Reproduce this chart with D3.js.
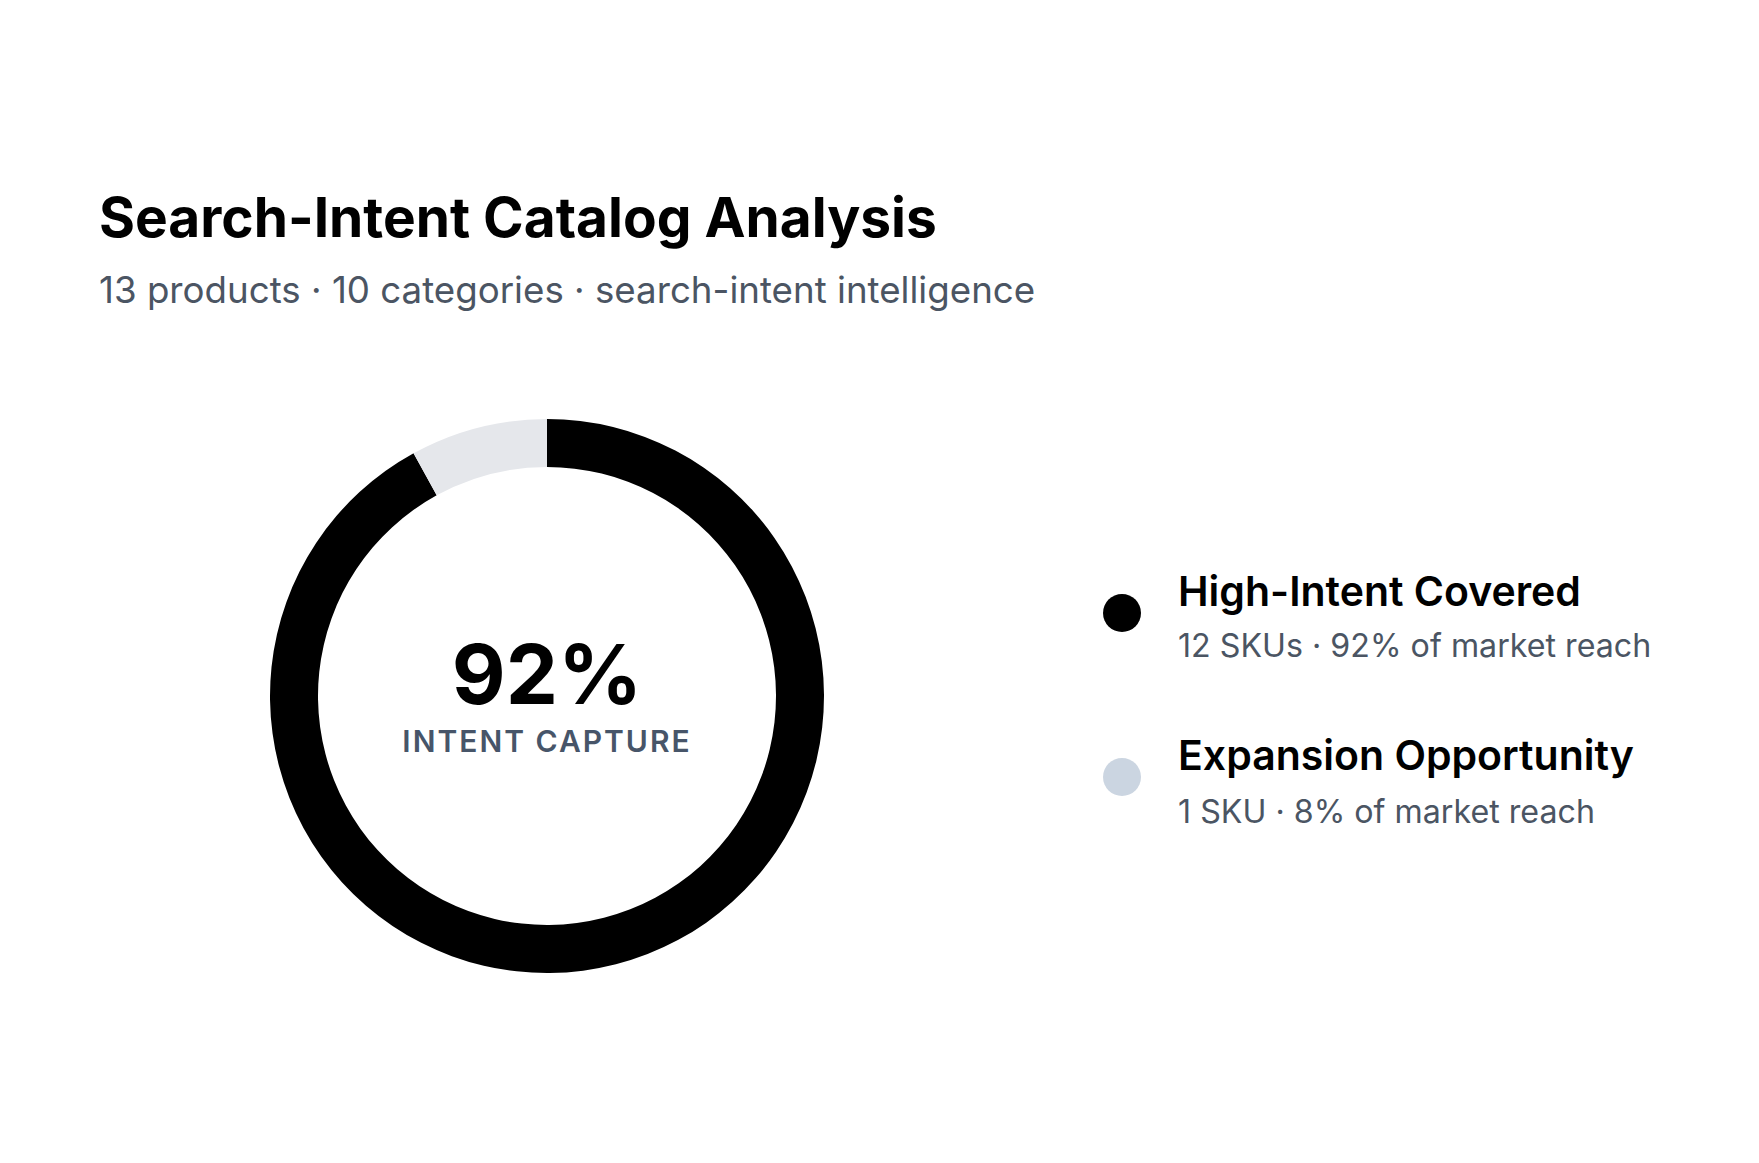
<!DOCTYPE html>
<html><head><meta charset="utf-8">
<script src="https://cdn.jsdelivr.net/npm/d3@7"></script>
<style>
html,body{margin:0;padding:0;background:#fff;}
svg{display:block;font-family:Inter,"Noto Sans",sans-serif;}
</style></head>
<body><svg id="c" width="1759" height="1163"></svg>
<script>
const title = "Search-Intent Catalog Analysis";
const subtitle = "13 products · 10 categories · search-intent intelligence";
const categories = ["High-Intent Covered", "Expansion Opportunity"];
const values = [92, 8];
const details = ["12 SKUs · 92% of market reach", "1 SKU · 8% of market reach"];
const centerValue = "92%";
const centerLabel = "INTENT CAPTURE";
const arcColors = ["#000000", "#e5e7eb"];
const dotColors = ["#000000", "#cbd5e1"];

const svg = d3.select("#c");
svg.append("text").attr("x", 99).attr("y", 237)
  .attr("font-size", 55).attr("font-weight", 700).attr("fill", "#000")
  .text(title);
svg.append("text").attr("x", 99).attr("y", 303)
  .attr("font-size", 36.7).attr("font-weight", 400).attr("fill", "#4b5563")
  .text(subtitle);

const cx = 547, cy = 696, rOut = 277, rIn = 229;
const pie = d3.pie().sort(null).value(d => d);
const arc = d3.arc().innerRadius(rIn).outerRadius(rOut);
const g = svg.append("g").attr("transform", `translate(${cx},${cy})`);
g.selectAll("path").data(pie(values)).join("path")
  .attr("d", arc).attr("fill", (d, i) => arcColors[i]);
g.append("text").attr("text-anchor", "middle").attr("y", 8)
  .attr("font-size", 83).attr("font-weight", 700).attr("fill", "#000").text(centerValue);
g.append("text").attr("text-anchor", "middle").attr("y", 56)
  .attr("font-size", 30).attr("font-weight", 600).attr("fill", "#475569")
  .attr("letter-spacing", 2).text(centerLabel);

const ly = d3.scalePoint().domain(categories).range([613, 777]);
const leg = svg.append("g");
categories.forEach((c, i) => {
  const y = ly(c);
  leg.append("circle").attr("cx", 1122).attr("cy", y).attr("r", 19).attr("fill", dotColors[i]);
  leg.append("text").attr("x", 1178).attr("y", y - 7).attr("font-size", 41)
    .attr("font-weight", 600).attr("fill", "#000").text(c);
  leg.append("text").attr("x", 1178).attr("y", y + 44 + i * 2).attr("font-size", 32.2)
    .attr("font-weight", 400).attr("fill", "#4b5563").text(details[i]);
});
</script></body></html>
